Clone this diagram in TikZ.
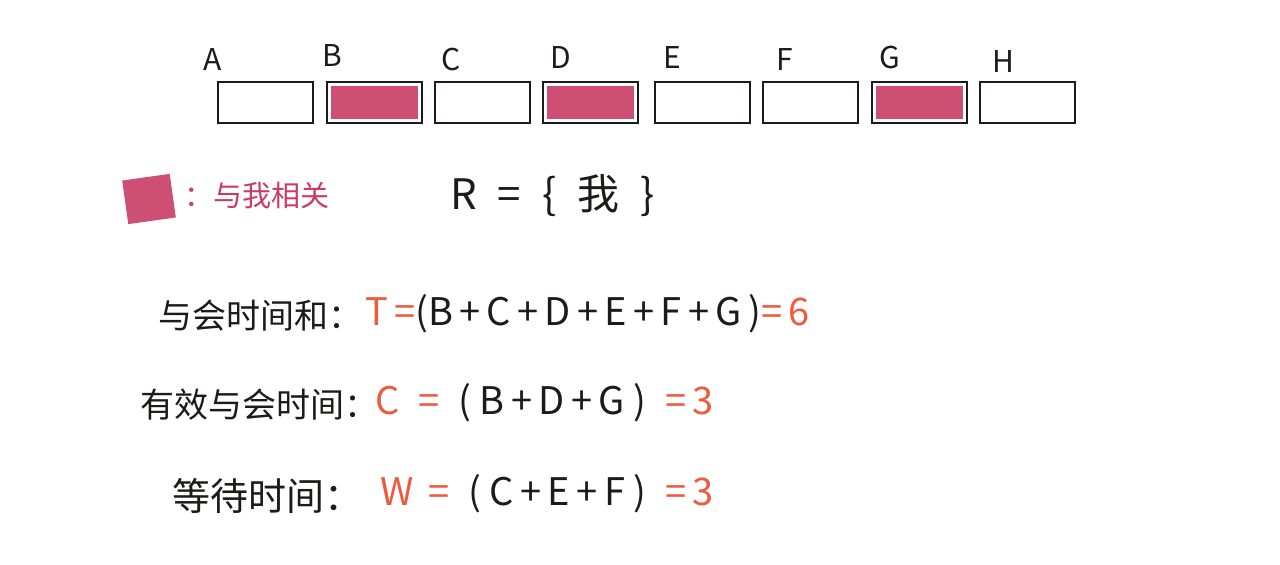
\documentclass[tikz,border=0pt]{standalone}
\usepackage{fontspec}
\setmainfont{Noto Sans CJK SC}
\definecolor{hl}{HTML}{C83C64}
\definecolor{orng}{HTML}{EE5A3C}
\definecolor{ink}{HTML}{1E1A1A}
\begin{document}
\begin{tikzpicture}[x=1pt,y=-1pt,
  cell/.style={draw=ink,line width=2.2pt,minimum width=95pt,minimum height=41pt,anchor=north west,inner sep=0pt},
  hot/.style={cell,path picture={\fill[hl,opacity=0.9] ([xshift=4pt,yshift=-4pt]path picture bounding box.north west) rectangle ([xshift=-4pt,yshift=4pt]path picture bounding box.south east);}},
  lbl/.style={font=\fontsize{30}{32}\selectfont,text=ink,inner sep=0pt},
  txt/.style={font=\fontsize{34}{38}\selectfont,text=ink,inner sep=0pt,anchor=west},
  eq/.style={font=\fontsize{38}{42}\selectfont,text=ink,inner sep=0pt,anchor=west}]
\useasboundingbox (0,0) rectangle (1280,565);
% boxes
\node[cell] (boxA) at (217,81) {};
\node[hot]  (boxB) at (326,81) {};
\node[cell] (boxC) at (434,81) {};
\node[hot]  (boxD) at (542,81) {};
\node[cell] (boxE) at (654,81) {};
\node[cell] (boxF) at (762,81) {};
\node[hot]  (boxG) at (871,81) {};
\node[cell] (boxH) at (979,81) {};
% labels
\node[lbl] (lblA) at (213,60) {A};
\node[lbl] (lblB) at (332,56) {B};
\node[lbl] (lblC) at (451,60) {C};
\node[lbl] (lblD) at (561,58) {D};
\node[lbl] (lblE) at (672,58) {E};
\node[lbl] (lblF) at (785,60) {F};
\node[lbl] (lblG) at (890,58) {G};
\node[lbl] (lblH) at (1003,62) {H};
% legend
\node[fill=hl,opacity=0.9,minimum width=48pt,minimum height=44pt,rotate=8] (swatch) at (149,199) {};
\node[txt,text=hl,font=\fontsize{29}{32}\selectfont] (legend) at (184,196) {：与我相关};
\node[eq,font=\fontsize{42}{46}\selectfont] (rset) at (450,196) {R\; = \;\{\; 我 \;\}};
% formulas
\node[txt] (t1) at (158,316) {与会时间和：};
\node[eq] (f1) at (365,314) {\textcolor{orng}{T}\,\textcolor{orng}{=}(B\,+\,C\,+\,D\,+\,E\,+\,F\,+\,G\,)\textcolor{orng}{=\,6}};
\node[txt] (t2) at (140,405) {有效与会时间：};
\node[eq] (f2) at (375,403) {\textcolor{orng}{C\; =}\; ( B\,+\,D\,+\,G )\; \textcolor{orng}{=\,3}};
\node[txt,font=\fontsize{38}{42}\selectfont] (t3) at (172,496) {等待时间：};
\node[eq] (f3) at (380,494) {\textcolor{orng}{W\, =}\; ( C\,+\,E\,+\,F )\; \textcolor{orng}{=\,3}};
\end{tikzpicture}
\end{document}
